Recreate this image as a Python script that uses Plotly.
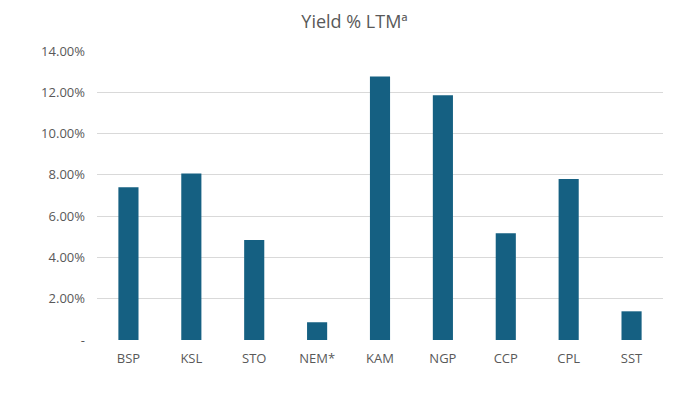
import plotly.graph_objects as go

categories = ["BSP", "KSL", "STO", "NEM*", "KAM", "NGP", "CCP", "CPL", "SST"]
yield_pct = [7.40, 8.06, 4.85, 0.86, 12.76, 11.86, 5.17, 7.80, 1.39]
tick_vals = [0, 2, 4, 6, 8, 10, 12, 14]
tick_text = ["-", "2.00%", "4.00%", "6.00%", "8.00%", "10.00%", "12.00%", "14.00%"]

fig = go.Figure(go.Bar(
    x=categories, y=yield_pct, marker=dict(color="#156082", line=dict(width=0)),
))
fig.update_layout(
    width=693, height=399,
    margin=dict(l=89, r=38, t=43, b=67),
    paper_bgcolor="white", plot_bgcolor="white",
    bargap=0.68,
    showlegend=False,
    title=dict(text="Yield % LTMª", x=0.5, xanchor="center", y=0.966, yanchor="middle",
               font=dict(family="Open Sans", size=18, color="#595959")),
    font=dict(family="Open Sans", size=13, color="#595959"),
)
fig.update_yaxes(range=[0, 14], tickvals=tick_vals, ticktext=tick_text,
                 showgrid=True, gridcolor="#D9D9D9", gridwidth=1, zeroline=False,
                 showline=False, ticks="", ticklabelstandoff=11,
                 tickfont=dict(size=13, color="#595959"))
fig.update_xaxes(showgrid=False, showline=False, zeroline=False, ticks="",
                 ticklabelstandoff=9, tickfont=dict(size=13, color="#595959"))
fig.write_html("out.html")
